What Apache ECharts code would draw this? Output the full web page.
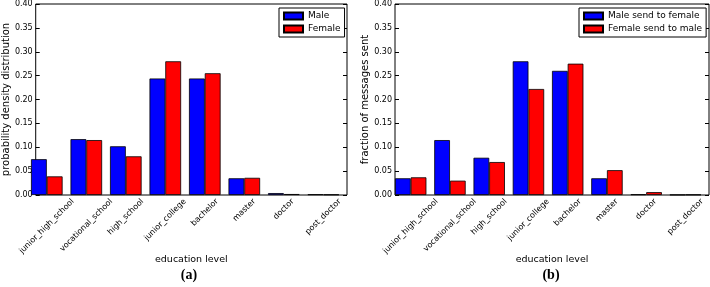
<!DOCTYPE html>
<html>
<head>
<meta charset="utf-8">
<script src="https://cdn.jsdelivr.net/npm/echarts@6/dist/echarts.min.js"></script>
<style>
  html, body { margin: 0; padding: 0; background: #fff; }
  #chart { width: 710px; height: 287px; }
</style>
</head>
<body>
<div id="chart"></div>
<script>
// categories shared by both panels
const levels = ['junior_high_school', 'vocational_school', 'high_school', 'junior_college',
  'bachelor', 'master', 'doctor', 'post_doctor'];

// (a) probability density distribution
const maleDist = [0.075, 0.117, 0.102, 0.244, 0.244, 0.035, 0.004, 0.0015];
const femaleDist = [0.039, 0.115, 0.081, 0.280, 0.255, 0.036, 0.002, 0.001];

// (b) fraction of messages sent
const maleToFemale = [0.035, 0.115, 0.078, 0.280, 0.260, 0.035, 0.0015, 0.0005];
const femaleToMale = [0.037, 0.030, 0.069, 0.222, 0.275, 0.052, 0.006, 0.0008];

const yTicks = { min: 0, max: 0.4, interval: 0.05 };

const FONT = 'DejaVu Sans';
const myChart = echarts.init(document.getElementById('chart'));

// matplotlib centres a rotated label's bounding box under the tick,
// echarts pins the label end there; pad each label to get the mpl look
const ctx = document.createElement('canvas').getContext('2d');
ctx.font = '8px "' + FONT + '"';
const labelRich = {};
levels.forEach((name, i) => {
  const w = ctx.measureText(name).width;
  const h = 9;
  const H = (w + h) * 0.7071;
  const D = 2 + H / 2 - 2;
  const p = 1.414 * D;
  labelRich['k' + i] = { fontSize: 8, fontFamily: FONT, color: '#000', padding: [p, p, 0, 0] };
});

function panel(idx, frame, shift) {
  // frame grid: box, y ticks, axis titles. bar grid: shifted so bars start at the left edge
  const g = idx * 2;
  return {
    grids: [
      { left: frame.left, right: frame.right, top: frame.top, bottom: frame.bottom,
        show: true, borderColor: '#000', borderWidth: 1, backgroundColor: 'transparent' },
      { left: frame.left - shift, right: frame.right + shift, top: frame.top, bottom: frame.bottom }
    ],
    xAxis: [
      { gridIndex: g, type: 'value', min: 0, max: 8,
        axisLine: { show: false }, axisTick: { show: false }, axisLabel: { show: false }, splitLine: { show: false },
        name: 'education level', nameLocation: 'middle', nameGap: 60,
        nameTextStyle: { fontSize: 9.5, fontFamily: FONT, color: '#000' } },
      { gridIndex: g + 1, type: 'category', data: levels, position: 'bottom',
        axisLine: { show: false },
        axisTick: { inside: true, alignWithLabel: true, length: 4, interval: 0, lineStyle: { color: '#000' } },
        axisLabel: { interval: 0, rotate: 45, margin: 2, align: 'center', verticalAlign: 'middle',
          formatter: (v, i) => '{k' + i + '|' + v + '}', rich: labelRich } },
      { gridIndex: g + 1, type: 'category', data: levels, position: 'top',
        axisLine: { show: false },
        axisTick: { inside: true, alignWithLabel: true, length: 4, interval: 0, lineStyle: { color: '#000' } },
        axisLabel: { show: false } }
    ],
    yAxis: [
      { gridIndex: g, type: 'value', min: yTicks.min, max: yTicks.max, interval: yTicks.interval,
        axisLine: { show: false }, splitLine: { show: false },
        axisTick: { inside: true, length: 4, lineStyle: { color: '#000' } },
        axisLabel: { margin: 3, fontSize: 8, fontFamily: FONT, color: '#000', formatter: v => v.toFixed(2) },
        name: frame.yName, nameLocation: 'middle', nameGap: frame.nameGap,
        nameTextStyle: { fontSize: 10, fontFamily: FONT, color: '#000' } },
      { gridIndex: g, type: 'value', position: 'right', min: yTicks.min, max: yTicks.max, interval: yTicks.interval,
        axisLine: { show: false }, splitLine: { show: false },
        axisTick: { inside: true, length: 4, lineStyle: { color: '#000' } },
        axisLabel: { show: false } },
      { gridIndex: g + 1, type: 'value', min: yTicks.min, max: yTicks.max, show: false }
    ]
  };
}

const left = panel(0, { left: 31, right: 363, top: 4, bottom: 92,
  yName: 'probability density distribution', nameGap: 22 }, 316 / 80);
const right = panel(1, { left: 395, right: 1, top: 4, bottom: 92,
  yName: 'fraction of messages sent', nameGap: 25 }, 314 / 80);

function bars(name, data, color, xi, yi) {
  return {
    name: name, type: 'bar', data: data, xAxisIndex: xi, yAxisIndex: yi,
    barWidth: '40%', barGap: '0%',
    itemStyle: { color: color, borderColor: '#000', borderWidth: 0.8 }
  };
}

function legend(names, x) {
  return {
    data: names, orient: 'vertical', left: x, top: 8,
    icon: 'rect', itemWidth: 19, itemHeight: 7, itemGap: 3,
    padding: [3, 4, 3, 4], backgroundColor: '#fff', borderColor: '#000', borderWidth: 1,
    selectedMode: false,
    textStyle: { fontSize: 9, fontFamily: FONT, color: '#000', lineHeight: 10 }
  };
}

const option = {
  animation: false,
  grid: left.grids.concat(right.grids),
  xAxis: left.xAxis.concat(right.xAxis),
  yAxis: left.yAxis.concat(right.yAxis),
  legend: [legend(['Male', 'Female'], 279), legend(['Male send to female', 'Female send to male'], 579)],
  title: [
    { text: '(a)', left: 189, top: 268, textAlign: 'center', padding: 0,
      textStyle: { fontFamily: 'Liberation Serif', fontWeight: 'bold', fontSize: 14, color: '#000' } },
    { text: '(b)', left: 551, top: 268, textAlign: 'center', padding: 0,
      textStyle: { fontFamily: 'Liberation Serif', fontWeight: 'bold', fontSize: 14, color: '#000' } }
  ],
  series: [
    bars('Male', maleDist, '#0000ff', 1, 2),
    bars('Female', femaleDist, '#ff0000', 1, 2),
    bars('Male send to female', maleToFemale, '#0000ff', 4, 5),
    bars('Female send to male', femaleToMale, '#ff0000', 4, 5)
  ]
};

myChart.setOption(option);
window.addEventListener('resize', () => myChart.resize());
</script>
</body>
</html>
